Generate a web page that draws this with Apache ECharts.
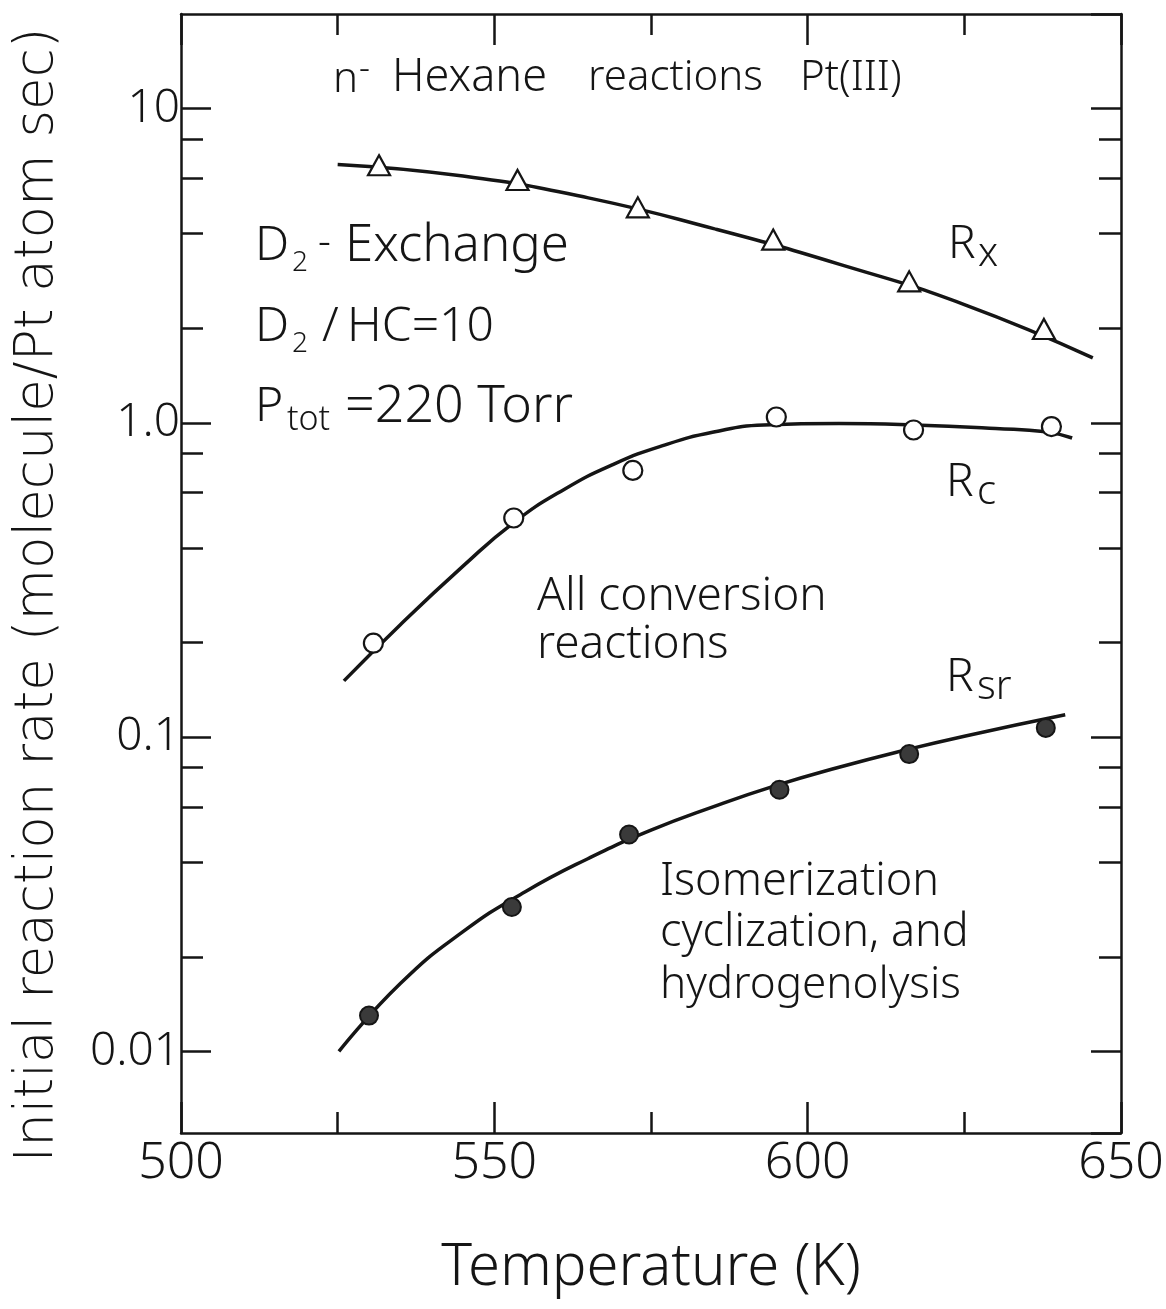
<!DOCTYPE html>
<html>
<head>
<meta charset="utf-8">
<script src="https://cdn.jsdelivr.net/npm/echarts@6/dist/echarts.min.js"></script>
<style>
  html, body { margin: 0; padding: 0; background: #fff; }
  #chart { width: 1166px; height: 1309px; }
</style>
</head>
<body>
<div id="chart"></div>
<script>
// n-Hexane reactions on Pt(111): initial rate vs temperature
// measured points [T (K), rate]
const rxPoints = [[531.6, 6.60], [553.7, 5.93], [572.9, 4.85], [594.5, 3.83], [616.2, 2.82], [637.7, 1.99]]
const rcPoints = [[530.7, 0.199], [553.1, 0.498], [572.1, 0.706], [595.0, 1.044], [616.9, 0.949], [638.9, 0.973]]
const rsrPoints = [[530.0, 0.0130], [552.8, 0.0288], [571.5, 0.049], [595.5, 0.068], [616.2, 0.0883], [638.0, 0.107]]

// hand drawn fit curves
const rxCurve = [[525, 6.64], [545, 6.1], [565, 5.2], [585, 4.15], [605, 3.2], [625, 2.38], [645.5, 1.61]]
const rcCurve = [[526, 0.151], [535, 0.228], [545, 0.35], [553, 0.48], [561, 0.612], [569, 0.738], [577, 0.848],
  [585, 0.935], [593, 0.985], [605, 0.995], [617, 0.985], [630, 0.96], [638, 0.937], [642.2, 0.895]]
const rsrCurve = [[525.2, 0.0100], [535, 0.01644], [545, 0.02404], [555, 0.03228], [565, 0.04111], [575, 0.05058],
  [585, 0.0601], [595, 0.0702], [605, 0.0802], [615, 0.0904], [625, 0.1007], [641.1, 0.1178]]

// axis ticks
const yLabelValues = [0.01, 0.1, 1, 10]
const yLabelTexts = ['0.01', '0.1', '1.0', '10']
const yMinorValues = [0.02, 0.04, 0.06, 0.08, 0.2, 0.4, 0.6, 0.8, 2, 4, 6, 8]
const yMin = 0.0055
const yMax = 20

const FONT = "'Noto Sans', 'DejaVu Sans', sans-serif"
const WIDE = "'DejaVu Sans', 'Noto Sans', sans-serif"
const INK = '#151515'
const W = 300

const chart = echarts.init(document.getElementById('chart'), null, { renderer: 'canvas' })

// 对数轴上的次刻度 (2,4,6,8) 用线性辅助轴画
function minorAxis(pos) {
  return {
    type: 'value',
    position: pos,
    min: Math.log10(yMin),
    max: Math.log10(yMax),
    axisLine: { show: false },
    axisLabel: { show: false },
    splitLine: { show: false },
    axisTick: {
      show: true,
      inside: true,
      length: 22,
      customValues: yMinorValues.map(v => Math.log10(v)),
      lineStyle: { color: INK, width: 2.5 }
    }
  }
}

function logAxis(pos, withLabel) {
  return {
    type: 'log',
    position: pos,
    min: yMin,
    max: yMax,
    logBase: 10,
    axisLine: { show: true, onZero: false, lineStyle: { color: INK, width: 2.5 } },
    axisTick: { show: true, inside: true, length: 30, lineStyle: { color: INK, width: 2.5 } },
    splitLine: { show: false },
    axisLabel: {
      show: withLabel,
      margin: 1,
      showMinLabel: false,
      showMaxLabel: false,
      fontFamily: FONT,
      fontWeight: W,
      fontSize: 46,
      color: INK,
      formatter: v => {
        let i = yLabelValues.findIndex(t => Math.abs(Math.log10(v) - Math.log10(t)) < 1e-6)
        return i >= 0 ? yLabelTexts[i] : ''
      }
    }
  }
}

function tempAxis(pos, withLabel) {
  return {
    type: 'value',
    position: pos,
    min: 500,
    max: 650,
    interval: 50,
    axisLine: { show: true, onZero: false, lineStyle: { color: INK, width: 2.5 } },
    axisTick: { show: true, inside: true, length: 31, lineStyle: { color: INK, width: 2.5 } },
    minorTick: { show: true, splitNumber: 2, length: 21, lineStyle: { color: INK, width: 2.5 } },
    splitLine: { show: false },
    axisLabel: { show: withLabel, margin: 6, fontFamily: FONT, fontWeight: W, fontSize: 50, color: INK },
    name: withLabel ? 'Temperature (K)' : '',
    nameLocation: 'middle',
    nameGap: 106,
    nameTextStyle: { fontFamily: FONT, fontWeight: W, fontSize: 58, color: INK }
  }
}

function txt(x, y, s, size) {
  return {
    type: 'text',
    x: x,
    y: y,
    silent: true,
    style: { text: s, fontFamily: FONT, fontWeight: W, fontSize: size, fill: INK, verticalAlign: 'middle', align: 'left' }
  }
}

const option = {
  backgroundColor: '#fff',
  animation: false,
  grid: { left: 181, right: 45, top: 14, bottom: 176, containLabel: false, outerBoundsMode: 'none' },
  xAxis: [tempAxis('bottom', true), tempAxis('top', false)],
  yAxis: [logAxis('left', true), logAxis('right', false), minorAxis('left'), minorAxis('right')],
  series: [
    { name: 'Rx fit', type: 'line', data: rxCurve, smooth: 0.5, showSymbol: false,
      lineStyle: { color: INK, width: 3.5 }, z: 2 },
    { name: 'Rc fit', type: 'line', data: rcCurve, smooth: 0.5, showSymbol: false,
      lineStyle: { color: INK, width: 3.5 }, z: 2 },
    { name: 'Rsr fit', type: 'line', data: rsrCurve, smooth: 0.5, showSymbol: false,
      lineStyle: { color: INK, width: 3.5 }, z: 2 },
    { name: 'Rx', type: 'scatter', data: rxPoints, symbol: 'triangle', symbolSize: [22, 20],
      itemStyle: { color: '#fff', borderColor: INK, borderWidth: 2.2, opacity: 1 }, z: 5 },
    { name: 'Rc', type: 'scatter', data: rcPoints, symbol: 'circle', symbolSize: 19,
      itemStyle: { color: '#fff', borderColor: INK, borderWidth: 2.2, opacity: 1 }, z: 5 },
    { name: 'Rsr', type: 'scatter', data: rsrPoints, symbol: 'circle', symbolSize: 18,
      itemStyle: { color: '#3a3a3a', borderColor: INK, borderWidth: 2, opacity: 1 }, z: 5 }
  ],
  graphic: [
    // y axis title
    {
      type: 'text', x: 38, y: 595, rotation: Math.PI / 2, silent: true,
      style: {
        text: 'Initial reaction rate (molecule/Pt atom sec)', fontFamily: WIDE, fontWeight: W, fontSize: 53,
        fill: INK, align: 'center', verticalAlign: 'middle'
      }
    },
    // n-Hexane reactions Pt(III)
    txt(333, 80, 'n', 42), txt(359, 70, '-', 34), txt(392, 78, 'Hexane', 45),
    txt(588, 78, 'reactions', 42), txt(800, 78, 'Pt(III)', 42),
    // D2 - Exchange
    txt(255, 246, 'D', 48), txt(292, 263, '2', 28), txt(318, 244, '-', 40), txt(345, 246, 'Exchange', 51),
    // D2/HC=10
    txt(255, 327, 'D', 48), txt(292, 344, '2', 28), txt(322, 327, '/', 48), txt(347, 327, 'HC=10', 48),
    // Ptot = 220 Torr
    txt(255, 407, 'P', 48), txt(287, 420, 'tot', 34), txt(345, 407, '=220 Torr', 52),
    // curve labels
    txt(948, 245, 'R', 46), txt(978, 255, 'x', 40),
    txt(946, 483, 'R', 46), txt(977, 493, 'c', 40),
    txt(946, 678, 'R', 46), txt(977, 688, 'sr', 40),
    txt(537, 597, 'All conversion', 46),
    txt(537, 645, 'reactions', 46),
    txt(660, 882, 'Isomerization', 45),
    txt(660, 933, 'cyclization, and', 45),
    txt(660, 985, 'hydrogenolysis', 44)
  ]
}

chart.setOption(option)
</script>
</body>
</html>
